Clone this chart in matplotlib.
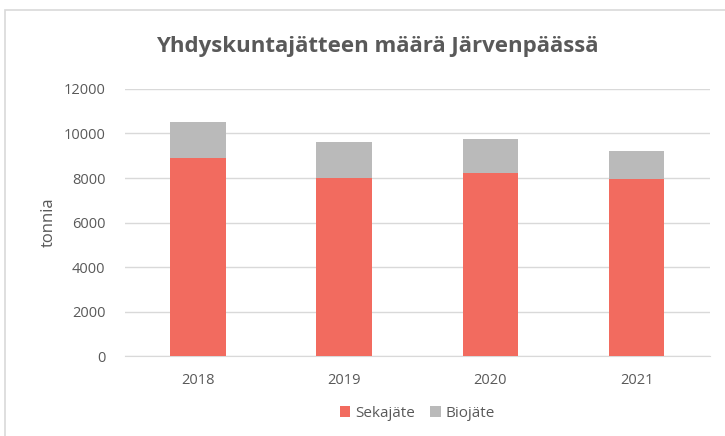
import numpy as np
import matplotlib.pyplot as plt
from matplotlib.patches import Rectangle

# Data
years = ['2018', '2019', '2020', '2021']
sekajate = [8880, 8010, 8210, 7940]
biojate = [1630, 1620, 1540, 1270]

red = '#F26B5F'
grey = '#BABABA'
text_col = '#595959'

plt.rcParams['font.family'] = ['Open Sans', 'DejaVu Sans']

fig = plt.figure(figsize=(7.25, 4.36), dpi=100)
ax = fig.add_axes([0.172, 0.183, 0.807, 0.613])

# chart frame
fig.patches.append(Rectangle((5 / 725, -0.1), 1.1, 1 - 10 / 436 + 0.1,
                             transform=fig.transFigure, fill=False,
                             edgecolor='#D9D9D9', lw=1.2))

x = np.arange(len(years))
ax.bar(x, sekajate, width=0.38, color=red, label='Sekajäte', zorder=3)
ax.bar(x, biojate, width=0.38, bottom=sekajate, color=grey, label='Biojäte', zorder=3)

ax.set_xlim(-0.5, 3.5)
ax.set_ylim(0, 12000)
ax.set_yticks(range(0, 12001, 2000))
ax.set_xticks(x)
ax.set_xticklabels(years)
ax.grid(axis='y', color='#D9D9D9', lw=1, zorder=0)
for s in ['top', 'right', 'left']:
    ax.spines[s].set_visible(False)
ax.spines['bottom'].set_color('#D9D9D9')
ax.tick_params(length=0, colors=text_col, labelsize=10.5)
ax.tick_params(axis='x', pad=12)
ax.tick_params(axis='y', pad=14)

ax.set_ylabel('tonnia', color=text_col, fontsize=12, labelpad=5)
fig.text(0.52, 0.893, 'Yhdyskuntajätteen määrä Järvenpäässä', ha='center', va='center',
         fontsize=16, fontweight='bold', color=text_col)

ax.legend(loc='center', bbox_to_anchor=(0.5, -0.215), ncol=2, frameon=False,
          handlelength=0.7, handleheight=0.7, handletextpad=0.3, columnspacing=1.0,
          labelcolor=text_col, fontsize=11)

fig.savefig('out.png', dpi=100)
